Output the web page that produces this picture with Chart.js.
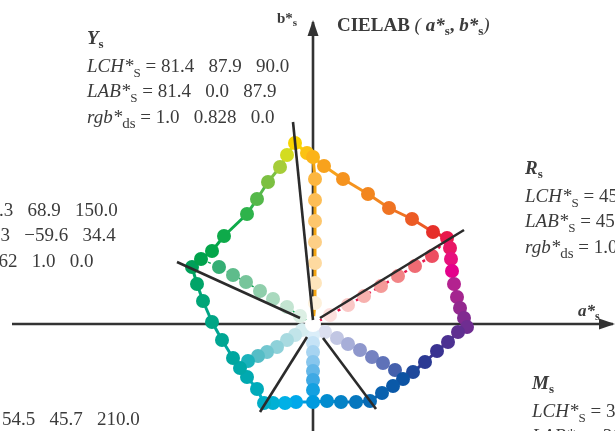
<!DOCTYPE html>
<html>
<head>
<meta charset="utf-8">
<script src="https://cdn.jsdelivr.net/npm/chart.js@4.4.1/dist/chart.umd.min.js"></script>
<style>
  html, body { margin: 0; padding: 0; background: #fff; }
  #c { display: block; }
</style>
</head>
<body>
<canvas id="c" width="615" height="431"></canvas>
<script>
// outer hue loop, CIELAB a*s / b*s, starting at G and running through Y, R, M, B, C
const outerA = [-60.5, -56, -50.5, -44.5, -33, -28, -22.5, -16.5, -13, -9,
  -3, 0, 5.5, 15, 27.5, 38, 49.5, 60, 67,
  68.5, 69, 69.5, 70.5, 72, 73.5, 75.5, 77,
  72.5, 67.5, 62, 56, 50, 45, 40, 34.5, 28.5, 21.5, 14, 7, 0, -8.5, -14, -20, -24.5,
  -28, -33, -36.5, -40, -45.5, -50.5, -55, -58];
const outerB = [28.5, 32.5, 36.5, 44, 55, 62.5, 71, 78.5, 84.5, 90.5,
  85.5, 83.5, 79, 72.5, 65, 58, 52.5, 46, 43,
  38, 32.5, 26.5, 20, 13.5, 8, 3, -1.5,
  -4, -9, -13.5, -19, -24, -27.5, -31, -34.5, -38.5, -39, -39, -38.5, -39, -39, -39.5, -39.5, -39.5,
  -32.5, -26.5, -22, -17, -8, 1, 11.5, 20];
const outerColors = ['#00a05a', '#00a24c', '#04a64a', '#0eaa4a', '#2eb34b', '#55b84a', '#7cc042', '#a6cd39', '#d3dc21', '#f9d300',
  '#fbc212', '#fbb318', '#f8a21c', '#f5931f', '#f2861f', '#ef7322', '#ec5b25', '#e6302a', '#e8184c',
  '#e81765', '#e7107d', '#e4008b', '#b3228f', '#a4258f', '#93288f', '#812b90', '#6f2d91',
  '#5f2f90', '#4c3191', '#3a3391', '#2b3a93', '#1e489b', '#0d53a3', '#0a59a8', '#0a61ae', '#086bb5', '#0677be', '#0482c6', '#028ccf', '#009ade', '#00a8ea', '#00b0e6', '#00b0d4', '#00adc6',
  '#00abba', '#00a9b0', '#00a8a8', '#00a69f', '#00a693', '#00a585', '#00a578', '#00a468'];

// spokes from the white centre to the loop (end = index into the loop)
const spokeYA = [1, 1, 1, 1, 1, 1, 1];
const spokeYB = [10.5, 20.5, 30.5, 41, 51.5, 62, 72.5];
const spokeYColors = ['#fdf1dc', '#fee5bc', '#fedaa0', '#fdcf86', '#fdc66c', '#fdbd55', '#fcb640'];
const spokeYEnd = 11;

const spokeRA = [8.5, 17.5, 25.5, 34, 42.5, 51, 59.5];
const spokeRB = [4.5, 9.5, 14, 19, 24, 29, 34];
const spokeRColors = ['#fde0de', '#fac8c6', '#f7b1ae', '#f49a98', '#f28486', '#ef6b73', '#ed4e61'];
const spokeREnd = 18;

const spokeGA = [-6.5, -13, -20, -26.5, -33.5, -40, -47];
const spokeGB = [4, 8.5, 12.5, 16.5, 21, 24.5, 28.5];
const spokeGColors = ['#dcefe4', '#c3e4d1', '#a9d9be', '#8fceab', '#77c59b', '#5ebc8b', '#34ae74'];
const spokeGEnd = 1;

const spokeCA = [-5.5, -9, -13, -18, -23, -27.5, -32.5];
const spokeCB = [-3, -5.5, -8, -11.5, -14, -16, -18.5];
const spokeCColors = ['#d6edf0', '#c1e4e9', '#a8dae0', '#8ed1d9', '#73c7d0', '#55bdc6', '#1bb2bb'];
const spokeCEnd = 46;

const spokeBA = [0, 0, 0, 0, 0, 0, 0];
const spokeBB = [-5.5, -9.5, -14, -19, -23.5, -28, -33];
const spokeBColors = ['#dbeef9', '#c6e3f6', '#a7d4f1', '#87c6ed', '#63b7e8', '#3ea9e4', '#14a0e0'];
const spokeBEnd = 39;

const spokeVA = [6, 12, 17.5, 23.5, 29.5, 35, 41];
const spokeVB = [-4, -7, -10, -13, -16.5, -19.5, -23];
const spokeVColors = ['#dcdff0', '#c1c6e3', '#a7aed8', '#8e97cc', '#7582c1', '#5f72b8', '#4460ac'];
const spokeVEnd = 31;

// black reference hue lines
const refStartA = [-10, 75.5, -68, -26.5, 31.5];
const refStartB = [101, 47, 31, -44, -42.5];
const refEndA = [0, 3.5, -6.5, -3, 5];
const refEndB = [2, 3, 3, -6.5, -7];

// axes
const axisHA = [-150.5, 150];
const axisHB = [0, 0];
const axisVA = [0, 0];
const axisVB = [-54, 151];

const FONT = '"Liberation Serif", "Times New Roman", serif';
const TEXT = '#3b3b3b';
const DOT = 7;

const pts = (a, b) => a.map((v, i) => ({ x: v, y: b[i] }));

function spokeSet(a, b, colors, end, line) {
    const data = [{ x: 0, y: 0 }].concat(pts(a, b), [{ x: outerA[end], y: outerB[end] }]);
    const last = data.length - 1;
    return Object.assign({
        data: data,
        order: 3,
        showLine: !!line,
        pointRadius: c => (c.dataIndex === 0 || c.dataIndex === last) ? 0 : DOT,
        pointBackgroundColor: c => colors[c.dataIndex - 1] || '#fff',
        pointBorderWidth: 0,
        borderWidth: 0
    }, line || {});
}

const outerData = pts(outerA, outerB);
outerData.push({ x: outerA[0], y: outerB[0] });

const datasets = [];

// centre white dot
datasets.push({ data: [{ x: 0, y: 0 }], order: 1, pointRadius: 8, pointBackgroundColor: '#fff', pointBorderWidth: 0 });

// reference lines
refStartA.forEach((a, i) => {
    datasets.push({
        data: [{ x: a, y: refStartB[i] }, { x: refEndA[i], y: refEndB[i] }],
        order: 0, showLine: true, borderColor: '#2b2b2b', borderWidth: 2.6, pointRadius: 0
    });
});

// outer loop
datasets.push({
    data: outerData,
    order: 2,
    showLine: true,
    borderWidth: 3,
    segment: { borderColor: c => outerColors[c.p0DataIndex % outerColors.length] },
    pointRadius: c => c.dataIndex === outerData.length - 1 ? 0 : DOT,
    pointBackgroundColor: c => outerColors[c.dataIndex % outerColors.length],
    pointBorderWidth: 0
});

datasets.push(spokeSet(spokeYA, spokeYB, spokeYColors, spokeYEnd, { borderColor: '#f4a512', borderWidth: 3 }));
datasets.push(spokeSet(spokeRA, spokeRB, spokeRColors, spokeREnd, { borderColor: '#e8174c', borderWidth: 2.5, borderDash: [3, 4] }));
datasets.push(spokeSet(spokeGA, spokeGB, spokeGColors, spokeGEnd, { borderColor: '#12a553', borderWidth: 1.5, borderDash: [3, 4] }));
datasets.push(spokeSet(spokeCA, spokeCB, spokeCColors, spokeCEnd, { borderColor: '#00aab8', borderWidth: 1.2, borderDash: [3, 4] }));
datasets.push(spokeSet(spokeBA, spokeBB, spokeBColors, spokeBEnd, null));
datasets.push(spokeSet(spokeVA, spokeVB, spokeVColors, spokeVEnd, null));

// axes
datasets.push({ data: pts(axisHA, axisHB), order: 9, showLine: true, borderColor: '#333', borderWidth: 2.6, pointRadius: 0, arrow: true });
datasets.push({ data: pts(axisVA, axisVB), order: 9, showLine: true, borderColor: '#333', borderWidth: 2.6, pointRadius: 0, arrow: true });

function drawRuns(ctx, x, y, parts) {
    parts.forEach(p => {
        ctx.font = p[1] + ' ' + FONT;
        ctx.fillText(p[0], x, y + (p[2] || 0));
        x += ctx.measureText(p[0]).width;
    });
}

function infoBlock(ctx, x, y, name, lch, lab, rgb) {
    drawRuns(ctx, x, y, [[name, 'italic bold 19px'], ['s', 'bold 13px', 4]]);
    drawRuns(ctx, x, y + 28, [['LCH*', 'italic 19px'], ['S', '13px', 5], [' = ' + lch, '19px']]);
    drawRuns(ctx, x, y + 53, [['LAB*', 'italic 19px'], ['S', '13px', 5], [' = ' + lab, '19px']]);
    drawRuns(ctx, x, y + 79, [['rgb*', 'italic 19px'], ['ds', '15px', 5], [' = ' + rgb, '19px']]);
}

const arrowPlugin = {
    id: 'arrows',
    beforeDatasetsDraw(chart) {
        const ctx = chart.ctx;
        const xs = chart.scales.x, ys = chart.scales.y;
        chart.data.datasets.forEach(ds => {
            if (!ds.arrow) return;
            const p0 = ds.data[0], p1 = ds.data[ds.data.length - 1];
            const x0 = xs.getPixelForValue(p0.x), y0 = ys.getPixelForValue(p0.y);
            const x1 = xs.getPixelForValue(p1.x), y1 = ys.getPixelForValue(p1.y);
            const ang = Math.atan2(y1 - y0, x1 - x0);
            ctx.save();
            ctx.translate(x1, y1);
            ctx.rotate(ang);
            ctx.fillStyle = '#333';
            ctx.beginPath();
            ctx.moveTo(2, 0);
            ctx.lineTo(-14, -5.5);
            ctx.lineTo(-14, 5.5);
            ctx.closePath();
            ctx.fill();
            ctx.restore();
        });
    }
};

const textPlugin = {
    id: 'labels',
    afterDraw(chart) {
        const ctx = chart.ctx;
        ctx.save();
        ctx.fillStyle = TEXT;
        ctx.textBaseline = 'alphabetic';
        drawRuns(ctx, 337, 31, [['CIELAB', 'bold 19px'], [' ( ', 'italic 19px'], ['a*', 'bold italic 19px'], ['s', 'bold 13px', 4],
            [', ', 'bold 19px'], ['b*', 'bold italic 19px'], ['s', 'bold 13px', 4], [')', 'italic 19px']]);
        drawRuns(ctx, 277, 23, [['b*', 'bold 15px'], ['s', 'bold 11px', 3]]);
        drawRuns(ctx, 578, 316, [['a*', 'bold italic 17px'], ['s', 'bold 12px', 4]]);
        infoBlock(ctx, 87, 44, 'Y', '81.4   87.9   90.0', '81.4   0.0   87.9', '1.0   0.828   0.0');
        infoBlock(ctx, 525, 174, 'R', '45.7   68.2   30.0', '45.7   59.1   34.1', '1.0   0.0   0.0');
        infoBlock(ctx, 532, 389, 'M', '36.4   62.0   −2.0', '36.4   62.0   −2.2', '1.0   0.0   1.0');
        infoBlock(ctx, -94, 188, 'G', '56.3   68.9   150.0', '56.3   −59.6   34.4', '0.162   1.0   0.0');
        infoBlock(ctx, -72, 397, 'C', '54.5   45.7   210.0', '54.5   −39.6   −22.9', '0.0   1.0   1.0');
        ctx.restore();
    }
};

new Chart(document.getElementById('c'), {
    type: 'scatter',
    data: { datasets: datasets },
    options: {
        responsive: false,
        animation: false,
        layout: { padding: 0, autoPadding: false },
        scales: {
            x: { type: 'linear', min: -156.5, max: 151, display: false },
            y: { type: 'linear', min: -53.5, max: 162, display: false }
        },
        plugins: { legend: { display: false }, tooltip: { enabled: false } }
    },
    plugins: [arrowPlugin, textPlugin]
});
</script>
</body>
</html>
